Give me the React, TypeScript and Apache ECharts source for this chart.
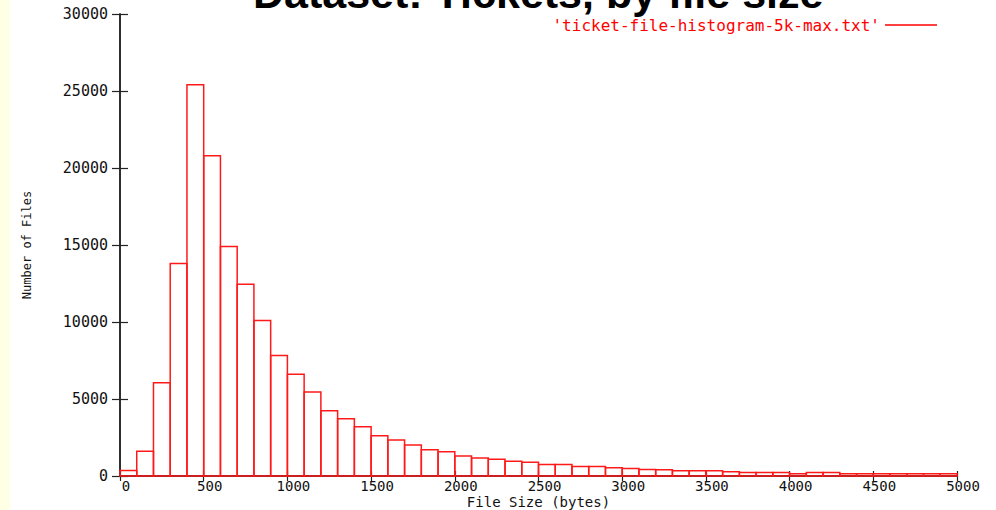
import React, { useEffect, useRef } from "react";
import * as echarts from "echarts";

const TITLE = "Dataset: Tickets, by file size";
const SERIES_NAME = "'ticket-file-histogram-5k-max.txt'";
const X_NAME = "File Size (bytes)";
const Y_NAME = "Number of Files";
const BIN_WIDTH = 100;
const X_TICKS = [0, 500, 1000, 1500, 2000, 2500, 3000, 3500, 4000, 4500, 5000];
const Y_TICKS = [0, 5000, 10000, 15000, 20000, 25000, 30000];
const COUNTS = [
  350, 1600, 6050, 13800, 25400, 20800, 14900, 12450, 10100, 7820,
  6600, 5450, 4230, 3710, 3190, 2620, 2340, 2010, 1710, 1580,
  1300, 1170, 1090, 960, 890, 740, 740, 610, 610, 540,
  480, 420, 400, 340, 340, 340, 280, 220, 220, 220,
  150, 220, 220, 140, 140, 140, 140, 140, 140, 140,
];

const MONO = "'DejaVu Sans Mono', 'Liberation Mono', monospace";

export default function App() {
  const ref = useRef<HTMLDivElement>(null);
  useEffect(() => {
    document.body.style.margin = "0";
    const chart = echarts.init(ref.current!, null, { renderer: "svg" });
    const data = COUNTS.map((c, i) => [i * BIN_WIDTH, (i + 1) * BIN_WIDTH, c]);
    const xMin = X_TICKS[0];
    const xMax = X_TICKS[X_TICKS.length - 1];
    const xInt = X_TICKS[1] - X_TICKS[0];
    const yMin = Y_TICKS[0];
    const yMax = Y_TICKS[Y_TICKS.length - 1];
    const yInt = Y_TICKS[1] - Y_TICKS[0];
    const axisLine = { show: true, lineStyle: { color: "#222", width: 1.5 } };
    const fmt = (v: number) => String(v);
    chart.setOption({
      animation: false,
      backgroundColor: "#ffffff",
      graphic: [
        { type: "rect", left: 0, top: 0, shape: { width: 10, height: 510 }, style: { fill: "#ffffe6" }, z: -10 },
      ],
      title: {
        text: TITLE,
        left: 253,
        top: -29,
        padding: 0,
        textStyle: { fontFamily: "'Liberation Sans', Arial, sans-serif", fontWeight: "bold", fontSize: 43, color: "#000" },
      },
      legend: {
        data: [{ name: SERIES_NAME, icon: "rect", itemStyle: { color: "#ff0000", borderWidth: 0 } }],
        right: 59,
        top: 17,
        padding: 0,
        align: "right",
        itemWidth: 52,
        itemHeight: 1.5,
        textStyle: { color: "#ff0000", fontFamily: MONO, fontSize: 16 },
      },
      grid: { left: 120, right: 39, top: 14, bottom: 34, outerBoundsMode: "none", containLabel: false },
      xAxis: [
        {
          type: "value",
          min: xMin,
          max: xMax,
          interval: xInt,
          position: "bottom",
          name: X_NAME,
          nameLocation: "middle",
          nameGap: 19,
          nameMoveOverlap: false,
          nameTextStyle: { fontFamily: MONO, fontSize: 14, color: "#111" },
          axisLine,
          axisTick: { show: true, inside: true, length: 5, lineStyle: { color: "#222", width: 1.2 } },
          axisLabel: { fontFamily: MONO, fontSize: 14, color: "#111", margin: 3, padding: [0, 0, 0, 12], formatter: fmt },
          splitLine: { show: false },
        },
        {
          type: "value",
          min: xMin,
          max: xMax,
          interval: xInt,
          position: "top",
          axisLine,
          axisTick: { show: true, inside: true, length: 5, lineStyle: { color: "#222", width: 1.2 } },
          axisLabel: { show: false },
          splitLine: { show: false },
        },
      ],
      yAxis: [
        {
          type: "value",
          min: yMin,
          max: yMax,
          interval: yInt,
          position: "left",
          name: Y_NAME,
          nameLocation: "middle",
          nameGap: 87,
          nameMoveOverlap: false,
          nameRotate: 90,
          nameTextStyle: { fontFamily: MONO, fontSize: 12, color: "#111" },
          axisLine,
          axisTick: { show: true, inside: true, length: 8, lineStyle: { color: "#222", width: 1.2 } },
          axisLabel: { fontFamily: MONO, fontSize: 15, color: "#111", margin: 12, formatter: fmt },
          splitLine: { show: false },
        },
        {
          type: "value",
          min: yMin,
          max: yMax,
          interval: yInt,
          position: "right",
          axisLine,
          axisTick: { show: true, inside: true, length: 8, lineStyle: { color: "#222", width: 1.2 } },
          axisLabel: { show: false },
          splitLine: { show: false },
        },
      ],
      series: [
        {
          name: SERIES_NAME,
          type: "custom",
          xAxisIndex: 0,
          yAxisIndex: 0,
          itemStyle: { color: "#ff0000" },
          encode: { x: [0, 1], y: 2 },
          data,
          renderItem: (params: any, api: any) => {
            const p0 = api.coord([api.value(0), api.value(2)]);
            const p1 = api.coord([api.value(1), 0]);
            return {
              type: "rect",
              shape: { x: p0[0], y: p0[1], width: p1[0] - p0[0], height: p1[1] - p0[1] },
              style: { fill: "none", stroke: "#ff1a1a", lineWidth: 1.5 },
            };
          },
        },
      ],
    });
    return () => chart.dispose();
  }, []);
  return <div ref={ref} style={{ width: 996, height: 510 }} />;
}
